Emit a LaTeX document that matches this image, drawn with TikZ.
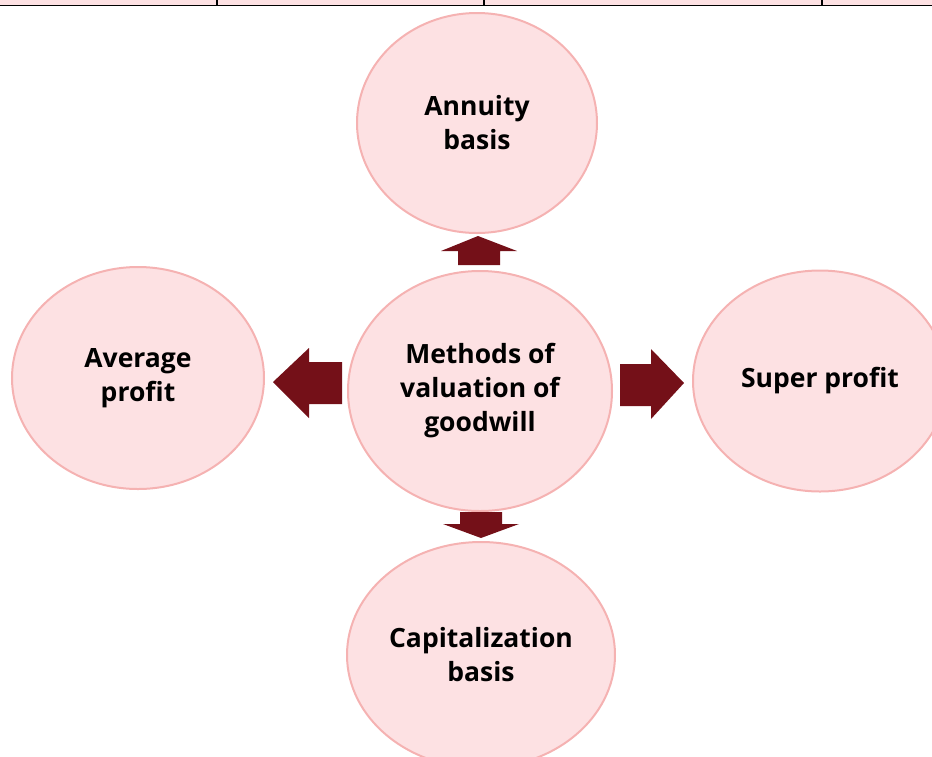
\documentclass[tikz,border=0pt]{standalone}
\usepackage{fontspec}
\setmainfont{Open Sans}
\usepackage{tikz}
\usetikzlibrary{shapes.geometric}

\definecolor{pinkfill}{RGB}{253,225,227}
\definecolor{pinkline}{RGB}{245,178,178}
\definecolor{darkred}{RGB}{116,16,24}

\tikzset{
  method/.style = {ellipse, draw = pinkline, fill = pinkfill, line width = 2pt,
    inner sep = 0pt, align = center,
    font = \fontsize{26.5}{34}\selectfont\bfseries},
  blockarrow/.style = {fill = darkred}
}

\begin{document}
\begin{tikzpicture}[x = 1pt, y = -1pt]

\useasboundingbox (0,0) rectangle (932,756);

% table edge at the top
\fill[pinkfill] (0,0) rectangle (932,5);
\draw[line width = 1.6pt] (0,5.5) -- (932,5.5);
\foreach \x in {217,484,822}
  \draw[line width = 1.2pt] (\x,0) -- (\x,5);

\node[method, minimum width = 264pt, minimum height = 240pt] (mid) at (480,391)
  {Methods of\\valuation of\\goodwill};
\node[method, minimum width = 240pt, minimum height = 220pt] (annuity) at (477,123)
  {Annuity\\basis};
\node[method, minimum width = 252pt, minimum height = 222pt] (average) at (138,378)
  {Average\\profit};
\node[method, minimum width = 254pt, minimum height = 221pt] (super) at (820,381)
  {Super profit};
\node[method, minimum width = 268pt, minimum height = 226pt] (capital) at (481,655)
  {Capitalization\\basis};

% block arrows
\fill[blockarrow] (458,265) -- (458,251) -- (441,251) -- (478,236)
  -- (517,251) -- (500,251) -- (500,265) -- cycle;
\fill[blockarrow] (460,512) -- (460,524) -- (443,524) -- (481,538)
  -- (519,524) -- (502,524) -- (502,512) -- cycle;
\fill[blockarrow] (342,362) -- (309,362) -- (309,348) -- (273,382)
  -- (309,418) -- (309,404) -- (342,404) -- cycle;
\fill[blockarrow] (620,364) -- (651,364) -- (651,349) -- (684,383)
  -- (651,419) -- (651,406) -- (620,406) -- cycle;

\end{tikzpicture}
\end{document}
